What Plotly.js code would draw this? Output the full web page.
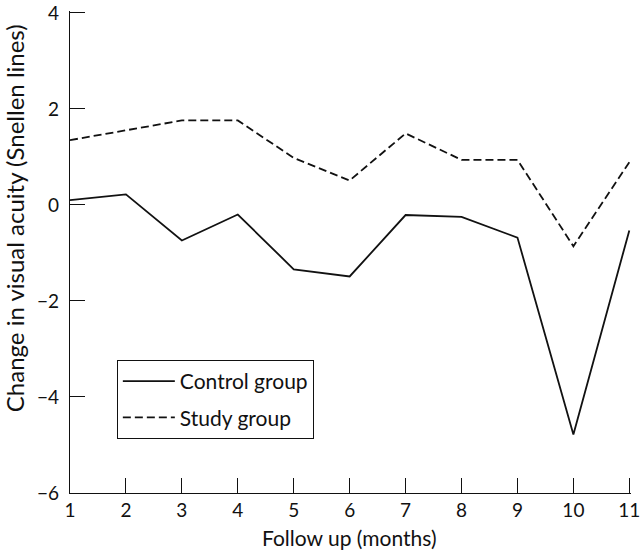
<!DOCTYPE html>
<html>
<head>
<meta charset="utf-8">
<script src="https://cdn.plot.ly/plotly-3.0.1.min.js"></script>
<style>html,body{margin:0;padding:0;background:#fff;}#chart{width:640px;height:551px;}</style>
</head>
<body>
<div id="chart"></div>
<script>
const months = [1, 2, 3, 4, 5, 6, 7, 8, 9, 10, 11];
const controlGroup = [0.10, 0.22, -0.74, -0.20, -1.34, -1.49, -0.21, -0.25, -0.68, -4.78, -0.53];
const studyGroup = [1.35, 1.56, 1.76, 1.76, 0.98, 0.51, 1.49, 0.94, 0.94, -0.86, 0.89];
const xTicks = [1, 2, 3, 4, 5, 6, 7, 8, 9, 10, 11];
const yTicks = [-6, -4, -2, 0, 2, 4];
const yTickText = ['\u22126', '\u22124', '\u22122', '0', '2', '4'];
const xTitle = 'Follow up (months)';
const yTitle = 'Change in visual acuity (Snellen lines)';

const font = 'Lato, "Open Sans", sans-serif';

const traces = [
  {x: months, y: controlGroup, name: 'Control group', mode: 'lines', type: 'scatter',
   line: {color: '#111', width: 1.8}, legendgroup: 'a'},
  {x: months, y: studyGroup, name: 'Study group', mode: 'lines', type: 'scatter',
   line: {color: '#111', width: 1.8, dash: '8px,4px'}, legendgroup: 'b'}
];

const layout = {
  width: 640, height: 551,
  margin: {l: 70, r: 9, t: 11, b: 58},
  paper_bgcolor: '#fff', plot_bgcolor: '#fff',
  font: {family: font, size: 19, color: '#111'},
  showlegend: true,
  legend: {x: 0.0835, y: 0.276, xanchor: 'left', yanchor: 'top',
           bordercolor: '#111', borderwidth: 1, bgcolor: '#fff',
           font: {family: font, size: 21, color: '#111'},
           itemwidth: 52,
           traceorder: 'grouped', tracegroupgap: 6},
  xaxis: {
    range: [1, 11.03], tickvals: xTicks, ticktext: xTicks.map(String),
    ticks: 'inside', ticklen: 15, tickwidth: 1, tickcolor: '#111',
    showline: true, linecolor: '#111', linewidth: 1.2,
    showgrid: false, zeroline: false, ticklabeloverflow: 'allow',
    tickfont: {family: font, size: 19, color: '#111'}
  },
  yaxis: {
    range: [-6, 4.04], tickvals: yTicks, ticktext: yTickText,
    ticks: 'inside', ticklen: 15, tickwidth: 1, tickcolor: '#111',
    showline: true, linecolor: '#111', linewidth: 1.2,
    showgrid: false, zeroline: false, ticklabeloverflow: 'allow',
    tickfont: {family: font, size: 19, color: '#111'},
    ticklabelstandoff: 6
  },
  annotations: [
    {text: xTitle, xref: 'paper', yref: 'paper', x: 0.498, y: -0.092,
     xanchor: 'center', yanchor: 'middle', showarrow: false,
     font: {family: font, size: 21, color: '#111'}},
    {text: yTitle, xref: 'paper', yref: 'paper', x: -0.1, y: 0.57,
     xanchor: 'center', yanchor: 'middle', showarrow: false, textangle: -90,
     font: {family: font, size: 24, color: '#111'}}
  ]
};

Plotly.newPlot('chart', traces, layout, {displayModeBar: false, staticPlot: true});
</script>
</body>
</html>
